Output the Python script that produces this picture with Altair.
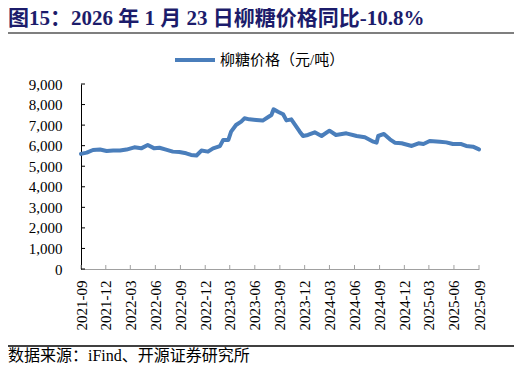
import altair as alt
import pandas as pd

# ---- data ----
dates = [
    "2021-09-01", "2021-09-22", "2021-10-15", "2021-11-10", "2021-12-04", "2021-12-28",
    "2022-01-22", "2022-02-15", "2022-03-16", "2022-04-10", "2022-05-04", "2022-05-28",
    "2022-06-16", "2022-07-10", "2022-08-04", "2022-08-28", "2022-09-22", "2022-10-10",
    "2022-10-30", "2022-11-17", "2022-12-11", "2022-12-30", "2023-01-24", "2023-02-05",
    "2023-02-24", "2023-03-06", "2023-03-24", "2023-04-12", "2023-04-24", "2023-05-12",
    "2023-06-06", "2023-06-30", "2023-07-19", "2023-08-01", "2023-08-09", "2023-08-25",
    "2023-09-13", "2023-09-25", "2023-10-13", "2023-10-25", "2023-11-13", "2023-11-25",
    "2023-12-13", "2024-01-07", "2024-02-01", "2024-03-01", "2024-03-25", "2024-05-02",
    "2024-06-09", "2024-07-09", "2024-08-09", "2024-08-21", "2024-08-27", "2024-09-17",
    "2024-10-09", "2024-10-27", "2024-11-21", "2024-12-28", "2025-01-22", "2025-02-09",
    "2025-03-04", "2025-04-10", "2025-05-04", "2025-05-28", "2025-06-28", "2025-07-16",
    "2025-08-10", "2025-09-01",
]
prices = [
    5600, 5660, 5790, 5810, 5740, 5760,
    5760, 5810, 5920, 5870, 6030, 5870,
    5900, 5810, 5710, 5690, 5630, 5550,
    5520, 5760, 5710, 5870, 5980, 6280,
    6280, 6680, 7005, 7170, 7330, 7280,
    7250, 7220, 7380, 7490, 7770, 7650,
    7525, 7230, 7280, 7050, 6680, 6470,
    6520, 6650, 6470, 6730, 6520, 6600,
    6470, 6405, 6195, 6145, 6470, 6570,
    6310, 6145, 6115, 5985, 6115, 6080,
    6225, 6195, 6160, 6080, 6080, 5985,
    5950, 5820,
]
tick_dates = [
    "2021-09-01", "2021-12-01", "2022-03-01", "2022-06-01", "2022-09-01", "2022-12-01",
    "2023-03-01", "2023-06-01", "2023-09-01", "2023-12-01", "2024-03-01", "2024-06-01",
    "2024-09-01", "2024-12-01", "2025-03-01", "2025-06-01", "2025-09-01",
]
y_ticks = [0, 1000, 2000, 3000, 4000, 5000, 6000, 7000, 8000, 9000]
title_text = "图15：2026 年 1 月 23 日柳糖价格同比-10.8%"
legend_text = "柳糖价格（元/吨）"
source_text = "数据来源：iFind、开源证券研究所"

# ---- layout / style ----
W, H = 398, 185
FONT = "Liberation Serif, Noto Sans CJK SC"
LINE_COLOR = "#4a7ebb"


def dt(s):
    y, m, d = (int(p) for p in s.split("-"))
    return alt.DateTime(year=y, month=m, date=d, utc=True)


df = pd.DataFrame({"date": dates, "price": prices})
xticks_df = pd.DataFrame({"date": tick_dates})
yticks_df = pd.DataFrame({"price": y_ticks})
one = pd.DataFrame({"t": [0]})

xscale = alt.Scale(type="utc", domain=[dt(tick_dates[0]), dt(tick_dates[-1])])
xaxis = alt.Axis(
    values=[dt(s) for s in tick_dates], format="%Y-%m", labelAngle=270,
    labelFont=FONT, labelFontSize=15, labelColor="black", labelPadding=11,
    ticks=False, tickSize=0, domainColor="#a0a0a0", domainWidth=1, grid=False,
    title=None, labelOverlap=False, labelBound=False, labelFlush=False,
)
yaxis = alt.Axis(
    values=y_ticks, format=",d", labelFont=FONT, labelFontSize=15,
    labelColor="black", labelPadding=19, ticks=False, tickSize=0,
    domainColor="black", domainWidth=1, grid=False, title=None,
)
x_enc = alt.X("date:T", scale=xscale, axis=xaxis)
y_enc = alt.Y("price:Q", scale=alt.Scale(domain=[0, 9000], nice=False, zero=True), axis=yaxis)

line = alt.Chart(df).mark_line(
    color=LINE_COLOR, strokeWidth=4, strokeJoin="round", strokeCap="round"
).encode(x=x_enc, y=y_enc)

xt = alt.Chart(xticks_df).mark_rule(color="#a0a0a0", strokeWidth=1).encode(
    x=x_enc, y=alt.value(H), y2=alt.value(H - 4)
)
yt = alt.Chart(yticks_df).mark_rule(color="black", strokeWidth=1).encode(
    y=y_enc, x=alt.value(0), x2=alt.value(4)
)

title = alt.Chart(pd.DataFrame({"t": [title_text]})).mark_text(
    align="left", baseline="alphabetic", font=FONT, fontSize=21,
    fontWeight="bold", color="#1c1c6b"
).encode(text="t:N", x=alt.value(-73), y=alt.value(-59))

title_rule = alt.Chart(one).mark_rule(color="#7f7f7f", strokeWidth=2).encode(
    x=alt.value(-76), x2=alt.value(435), y=alt.value(-51)
)

legend_line = alt.Chart(one).mark_rule(color=LINE_COLOR, strokeWidth=4).encode(
    x=alt.value(94), x2=alt.value(134), y=alt.value(-24)
)
legend_lbl = alt.Chart(pd.DataFrame({"t": [legend_text]})).mark_text(
    align="left", baseline="alphabetic", font=FONT, fontSize=15, color="black"
).encode(text="t:N", x=alt.value(139), y=alt.value(-19))

source_rule = alt.Chart(one).mark_rule(color="black", strokeWidth=1.3).encode(
    x=alt.value(-81), x2=alt.value(440), y=alt.value(262)
)
source_lbl = alt.Chart(pd.DataFrame({"t": [source_text]})).mark_text(
    align="left", baseline="alphabetic", font=FONT, fontSize=16, color="black"
).encode(text="t:N", x=alt.value(-73), y=alt.value(277))

chart = alt.layer(
    line, xt, yt, title, title_rule, legend_line, legend_lbl, source_rule, source_lbl
).properties(
    width=W, height=H,
    autosize=alt.AutoSizeParams(type="none"),
    padding={"left": 73, "top": 76, "right": 35, "bottom": 100},
).configure_view(stroke=None)

chart.save("out.html", embed_options={"renderer": "svg", "actions": False})
